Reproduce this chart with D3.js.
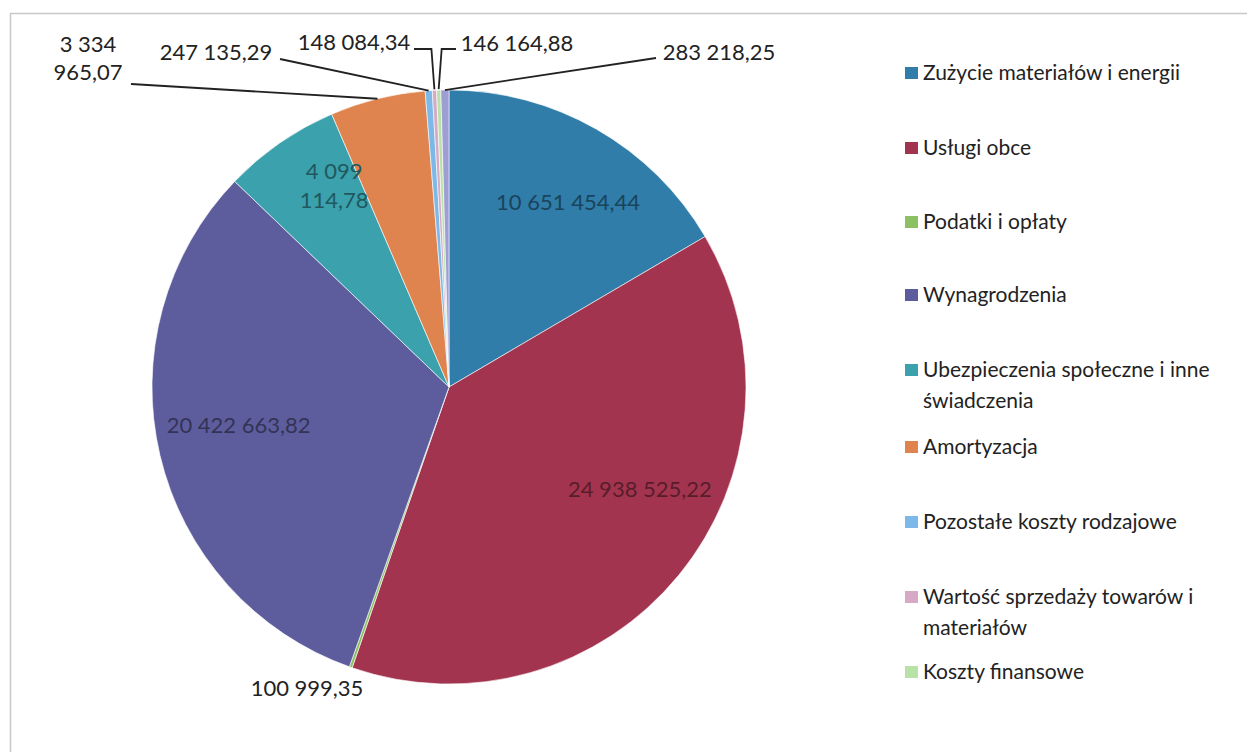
<!DOCTYPE html>
<html>
<head>
<meta charset="utf-8">
<script src="https://cdn.jsdelivr.net/npm/d3@7"></script>
<style>
  body { margin: 0; background: #fff; }
  svg { display: block; font-family: Lato, "Open Sans", sans-serif; }
</style>
</head>
<body>
<div id="chart"></div>
<script>
// categories (legend order) and values
var categories = [
  "Zużycie materiałów i energii",
  "Usługi obce",
  "Podatki i opłaty",
  "Wynagrodzenia",
  "Ubezpieczenia społeczne i inne świadczenia",
  "Amortyzacja",
  "Pozostałe koszty rodzajowe",
  "Wartość sprzedaży towarów i materiałów",
  "Koszty finansowe",
  "Pozostałe"
];
var values = [10651454.44, 24938525.22, 100999.35, 20422663.82, 4099114.78,
              3334965.07, 247135.29, 148084.34, 146164.88, 283218.25];
var labels = ["10 651 454,44", "24 938 525,22", "100 999,35", "20 422 663,82",
              "4 099|114,78", "3 334|965,07", "247 135,29", "148 084,34",
              "146 164,88", "283 218,25"];
var colors = ["#2f7da8", "#a3344f", "#8cc063", "#5d5d9e", "#3aa1ad",
              "#e0844f", "#7db9e8", "#d6a9c4", "#b9e2a9", "#9d9fd3"];
var legendCount = 9;

var W = 1247, H = 752;
var cx = 449, cy = 387, R = 297;

var svg = d3.select("#chart").append("svg")
    .attr("width", W).attr("height", H);

// frame
svg.append("rect")
    .attr("x", 10.5).attr("y", 13.5)
    .attr("width", W + 20).attr("height", H + 20)
    .attr("fill", "none").attr("stroke", "#c8c8c8").attr("stroke-width", 1.5);

var data = values.map(function(v, i) {
    return { name: categories[i], value: v, label: labels[i], color: colors[i], i: i };
});

var pie = d3.pie().sort(null).value(function(d) { return d.value; });
var arcs = pie(data);

var arc = d3.arc().innerRadius(0).outerRadius(R);

var g = svg.append("g").attr("transform", "translate(" + cx + "," + cy + ")");

g.selectAll("path.slice")
    .data(arcs)
    .enter().append("path")
    .attr("class", "slice")
    .attr("d", arc)
    .attr("fill", function(d) { return d.data.color; })
    .attr("stroke", "#ffffff")
    .attr("stroke-width", 0.6);

// inside labels (large slices): [radius fraction, angle shift in degrees]
var inside = { 0: [0.74, 3], 1: [0.73, -11], 3: [0.72, 3], 4: [0.78, 5] };
var inLabels = g.selectAll("text.inside")
    .data(arcs.filter(function(d) { return inside[d.index] !== undefined; }))
    .enter().append("text")
    .attr("class", "inside")
    .attr("text-anchor", "middle")
    .attr("font-size", 22)
    .attr("fill", function(d) { return d3.color(d.data.color).darker(1.7); })
    .attr("transform", function(d) {
        var f = inside[d.index][0];
        var a = (d.startAngle + d.endAngle) / 2 + inside[d.index][1] * Math.PI / 180;
        return "translate(" + (Math.sin(a) * R * f) + "," + (-Math.cos(a) * R * f) + ")";
    });
inLabels.each(function(d) {
    var parts = d.data.label.split("|");
    var t = d3.select(this);
    parts.forEach(function(p, k) {
        t.append("tspan").attr("x", 0)
            .attr("dy", k === 0 ? (parts.length > 1 ? "-0.3em" : "0.35em") : "1.3em")
            .text(p);
    });
});

// outside labels with leader lines
var outside = {
    2: { tx: 307, ty: 696 },
    5: { tx: 88, ty: 52, lx: 131, ly: 84 },
    6: { tx: 216, ty: 60, lx: 280, ly: 59 },
    7: { tx: 354, ty: 50, lx: 414, ly: 49, elbow: true },
    8: { tx: 517, ty: 51, lx: 456, ly: 49, elbow: true },
    9: { tx: 719, ty: 60, lx: 656, ly: 58 }
};
var edgeArc = d3.arc().innerRadius(R).outerRadius(R);

arcs.forEach(function(d) {
    var o = outside[d.index];
    if (!o) return;
    var t = g.append("text")
        .attr("text-anchor", "middle")
        .attr("font-size", 22)
        .attr("fill", "#222");
    var parts = d.data.label.split("|");
    parts.forEach(function(p, k) {
        t.append("tspan").attr("x", o.tx - cx)
            .attr("y", o.ty - cy + k * 28)
            .text(p);
    });
    if (o.lx !== undefined) {
        var e = edgeArc.centroid(d);
        var pts;
        if (o.elbow) {
            var sx = o.lx - cx, sy = o.ly - cy;
            var mx = e[0] + (sx < e[0] ? -3 : 3);
            pts = [[sx, sy], [mx, sy], [e[0], e[1] - 1]];
        } else {
            pts = [[o.lx - cx, o.ly - cy], [e[0], e[1]]];
        }
        g.append("path")
            .attr("d", d3.line()(pts))
            .attr("fill", "none")
            .attr("stroke", "#222")
            .attr("stroke-width", 1.8);
    }
});

// legend
var legendY = [73, 148, 222, 295, 370, 447, 522, 597, 672];
var legend = svg.append("g").selectAll("g")
    .data(data.slice(0, legendCount))
    .enter().append("g")
    .attr("transform", function(d, i) { return "translate(905," + legendY[i] + ")"; });

legend.append("rect")
    .attr("x", 0).attr("y", -6)
    .attr("width", 13).attr("height", 12)
    .attr("fill", function(d) { return d.color; });

var wrapped = {
    4: ["Ubezpieczenia społeczne i inne", "świadczenia"],
    7: ["Wartość sprzedaży towarów i", "materiałów"]
};
legend.append("text")
    .attr("font-size", 21)
    .attr("fill", "#222")
    .each(function(d, i) {
        var lines = wrapped[i] || [d.name];
        var t = d3.select(this);
        lines.forEach(function(l, k) {
            t.append("tspan").attr("x", 18).attr("y", 7 + k * 31).text(l);
        });
    });
</script>
</body>
</html>
